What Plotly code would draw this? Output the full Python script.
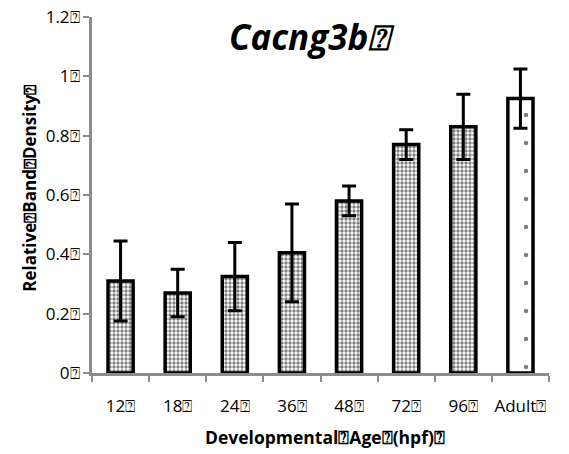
import plotly.graph_objects as go

Q = "\u2370"
categories = ["12", "18", "24", "36", "48", "72", "96", "Adult"]
values = [0.31, 0.27, 0.325, 0.405, 0.58, 0.77, 0.83, 0.925]
errors = [0.135, 0.08, 0.115, 0.165, 0.05, 0.05, 0.11, 0.10]
y_ticks = [0, 0.2, 0.4, 0.6, 0.8, 1.0, 1.2]
y_tick_labels = ["0", "0.2", "0.4", "0.6", "0.8", "1", "1.2"]
title_text = "Cacng3b"
y_title = ["Relative", "Band", "Density"]
x_title = ["Developmental", "Age", "(hpf)"]

cat_labels = [c + Q for c in categories]
font = "'Open Sans', Lato, sans-serif"

fig = go.Figure()
fig.add_trace(go.Bar(
    x=cat_labels[:7], y=values[:7],
    width=0.44,
    marker=dict(color="white", line=dict(color="black", width=3.5),
                pattern=dict(shape=".", size=4, solidity=0.55, fgcolor="black", bgcolor="white")),
    error_y=dict(type="data", array=errors[:7], color="black", thickness=3, width=7),
    showlegend=False,
))
fig.add_trace(go.Bar(
    x=cat_labels[7:], y=values[7:],
    width=0.44,
    marker=dict(color="white", line=dict(color="black", width=3.5),
                pattern=dict(shape=".", size=28, solidity=0.02, fgcolor="black", bgcolor="white")),
    error_y=dict(type="data", array=errors[7:], color="black", thickness=3, width=7),
    showlegend=False,
))

fig.update_layout(
    width=569, height=454,
    margin=dict(l=92, r=20, t=17, b=81, autoexpand=False),
    plot_bgcolor="white", paper_bgcolor="white",
    barmode="overlay",
    font=dict(family=font, color="black"),
    xaxis=dict(
        categoryorder="array", categoryarray=cat_labels, tickangle=0, automargin=False,
        showline=True, linecolor="#8c8c8c", linewidth=3,
        ticks="outside", tickson="boundaries", ticklen=6, tickwidth=2, tickcolor="#8c8c8c",
        tickfont=dict(size=17, family=font), showgrid=False, ticklabelstandoff=16,
    ),
    yaxis=dict(
        range=[0, 1.2], tickvals=y_ticks, ticktext=[t + Q for t in y_tick_labels], automargin=False,
        showline=True, linecolor="#8c8c8c", linewidth=3,
        ticks="outside", ticklen=6, tickwidth=2, tickcolor="#8c8c8c",
        tickfont=dict(size=17, family=font), showgrid=False, zeroline=False,
    ),
    annotations=[
        dict(text="<b><i>" + title_text + Q + "</i></b>", x=0.482, y=0.945, xref="paper", yref="paper",
             xanchor="center", yanchor="middle", showarrow=False, font=dict(size=35, family=font)),
        dict(text="<b>" + Q.join(x_title) + Q + "</b>", x=0.51, y=-0.18, xref="paper", yref="paper",
             xanchor="center", yanchor="middle", showarrow=False, font=dict(size=17.5, family=font)),
        dict(text="<b>" + Q.join(y_title) + Q + "</b>", x=-0.136, y=0.52, xref="paper", yref="paper",
             xanchor="center", yanchor="middle", textangle=-90, showarrow=False, font=dict(size=17, family=font)),
    ],
)

fig.write_html("out.html", config={"displayModeBar": False},
               post_script="document.body.style.margin='0px';")
